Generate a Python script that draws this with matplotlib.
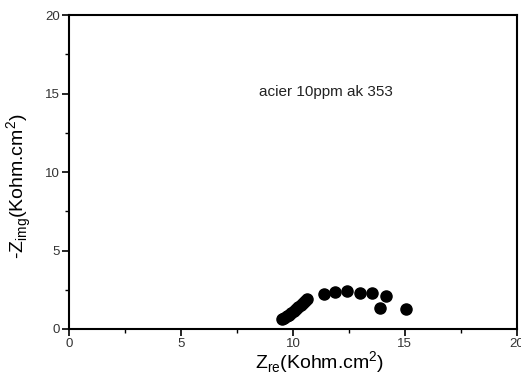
import matplotlib
matplotlib.use("Agg")
import matplotlib.pyplot as plt
from matplotlib.ticker import MultipleLocator

plt.rcParams['font.family'] = ['Liberation Sans', 'DejaVu Sans']

z_re = [9.52, 9.62, 9.72, 9.82, 9.92, 10.04, 10.14, 10.24, 10.34, 10.43, 10.52, 10.61,
        11.4, 11.86, 12.4, 12.99, 13.54, 14.14, 13.88, 15.04]
z_img = [0.62, 0.72, 0.83, 0.92, 1.0, 1.17, 1.27, 1.38, 1.5, 1.64, 1.76, 1.89,
         2.2, 2.34, 2.44, 2.31, 2.31, 2.12, 1.32, 1.29]
annotation = "acier 10ppm ak 353"

fig = plt.figure(figsize=(5.21, 3.79), dpi=100)
ax = fig.add_axes([0.1324, 0.132, 0.8596, 0.828])
ax.plot(z_re, z_img, 'o', color='black', markersize=8, linestyle='none')
ax.set_xlim(0, 20)
ax.set_ylim(0, 20)
ax.xaxis.set_major_locator(MultipleLocator(5))
ax.yaxis.set_major_locator(MultipleLocator(5))
ax.xaxis.set_minor_locator(MultipleLocator(2.5))
ax.yaxis.set_minor_locator(MultipleLocator(2.5))
ax.tick_params(which='major', direction='out', length=5, width=1.2, labelsize=9.5,
               colors='black', pad=1.5)
ax.tick_params(which='minor', direction='out', length=3, width=1)
ax.tick_params(labelcolor='#333333')
for s in ax.spines.values():
    s.set_linewidth(1.5)
ax.set_xlabel("Z$_{\\mathregular{re}}$(Kohm.cm$^{\\mathregular{2}}$)", fontsize=14)
ax.set_ylabel("-Z$_{\\mathregular{img}}$(Kohm.cm$^{\\mathregular{2}}$)", fontsize=14)
ax.xaxis.set_label_coords(0.56, -0.064)
ax.yaxis.set_label_coords(-0.078, 0.455)
ax.text(8.5, 15.1, annotation, fontsize=11, va='center', ha='left', color='#222222')
fig.savefig("out.png", dpi=100)
